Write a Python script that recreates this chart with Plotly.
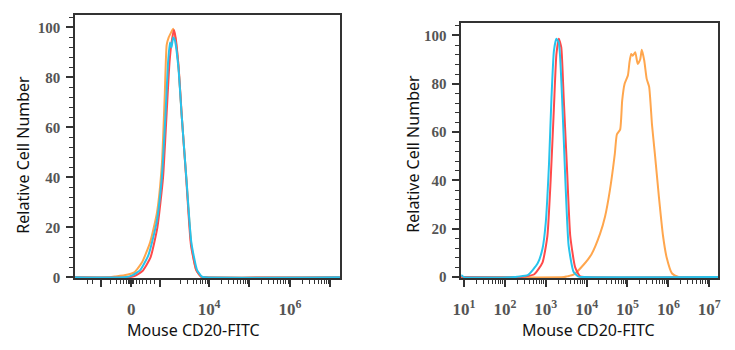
import plotly.graph_objects as go
import math

# ---------------- data (display units: decades on x, % on y) ----------------
# Left panel (biexponential-like display; 0 sits at ~2.07, 10^4 at 4)
left_red_x = [0.68, 2.00, 2.15, 2.35, 2.55, 2.72, 2.86, 2.95, 3.02, 3.08, 3.13, 3.17, 3.25, 3.33, 3.44, 3.55, 3.68, 3.80, 3.90, 7.24]
left_red_y = [0, 0, 0.5, 2.5, 8, 20, 40, 66, 86, 95, 99, 96, 83, 63, 38, 13, 3, 0.3, 0, 0]
left_blue_x = [0.68, 1.90, 2.10, 2.30, 2.50, 2.70, 2.83, 2.92, 2.98, 3.03, 3.07, 3.11, 3.15, 3.24, 3.32, 3.44, 3.56, 3.70, 3.82, 3.90, 7.24]
left_blue_y = [0, 0, 0.8, 3, 9, 22, 40, 65, 85, 94, 92, 96, 95, 84, 65, 39, 14, 3, 0.3, 0, 0]
left_orange_x = [0.68, 1.55, 1.66, 1.90, 2.15, 2.34, 2.54, 2.71, 2.83, 2.90, 2.95, 3.00, 3.06, 3.11, 3.16, 3.24, 3.32, 3.44, 3.56, 3.68, 3.80, 3.90, 7.24]
left_orange_y = [0, 0, 0.3, 0.8, 2, 6, 14, 26, 45, 72, 93, 96, 98, 99.5, 96, 85, 65, 39, 13, 3, 0.3, 0, 0]

# Right panel (log10 of fluorescence)
right_red_x = [0.93, 2.40, 2.48, 2.72, 2.92, 3.04, 3.12, 3.20, 3.26, 3.32, 3.38, 3.44, 3.52, 3.60, 3.72, 3.84, 3.95, 7.22]
right_red_y = [0, 0, 0.2, 1.2, 6, 17, 40, 70, 92, 98.6, 95, 74, 45, 17, 4, 0.3, 0, 0]
right_blue_x = [0.93, 0.95, 1.00, 2.25, 2.32, 2.56, 2.80, 2.92, 3.00, 3.08, 3.14, 3.20, 3.26, 3.32, 3.40, 3.48, 3.56, 3.68, 3.80, 3.90, 7.22]
right_blue_y = [0.8, 0.6, 0, 0, 0.2, 0.8, 5.6, 11.7, 22.5, 46.9, 74, 93.6, 98.6, 97, 74, 40, 13, 2.2, 0.2, 0, 0]
right_orange_x = [0.93, 3.45, 3.52, 3.68, 3.92, 4.12, 4.33, 4.45, 4.57, 4.69, 4.74, 4.82, 4.87, 4.93, 5.01, 5.05, 5.09,
                  5.13, 5.19, 5.25, 5.31, 5.35, 5.41, 5.47, 5.53, 5.60, 5.67, 5.77, 5.87, 5.96, 6.09, 6.25, 7.22]
right_orange_y = [0, 0, 0.3, 1, 5, 9.5, 18, 25, 36, 51, 59, 61, 73, 80, 83.4, 89, 92.3,
                  91.6, 93, 88.2, 90, 94, 89.6, 82, 78.7, 63, 51, 33, 17, 8, 1.5, 0.1, 0]

# tick labels
left_tick_vals = [1.32, 2.07, 2.78, 4, 5, 6, 7]
left_tick_text = ["", "0", "", "10<sup>4</sup>", "", "10<sup>6</sup>", ""]
right_tick_vals = [1, 2, 3, 4, 5, 6, 7]
right_tick_text = ["10<sup>%d</sup>" % k for k in right_tick_vals]
y_tick_vals = [0, 20, 40, 60, 80, 100]

RED = "#ff4a4a"
BLUE = "#27c3ec"
ORANGE = "#ffa64d"

log_minor = [math.log10(k) for k in range(2, 10)]
left_minor = ([1.0, 1.12, 1.55, 1.70, 1.80, 1.88, 1.95, 2.0, 2.04, 2.10, 2.14, 2.20, 2.28, 2.36, 2.45, 2.55, 2.65]
              + [3 + v for v in log_minor] + [4 + v for v in log_minor]
              + [5 + v for v in log_minor] + [6 + v for v in log_minor])
right_minor = [d + v for d in range(1, 7) for v in log_minor]

fig = go.Figure()
for xs, ys, c in [(left_orange_x, left_orange_y, ORANGE), (left_red_x, left_red_y, RED), (left_blue_x, left_blue_y, BLUE)]:
    fig.add_trace(go.Scatter(x=xs, y=ys, mode="lines", line=dict(color=c, width=2, shape="spline", smoothing=0.5),
                             xaxis="x", yaxis="y", showlegend=False, hoverinfo="skip"))
for xs, ys, c in [(right_orange_x, right_orange_y, ORANGE), (right_red_x, right_red_y, RED), (right_blue_x, right_blue_y, BLUE)]:
    fig.add_trace(go.Scatter(x=xs, y=ys, mode="lines", line=dict(color=c, width=2, shape="spline", smoothing=0.5),
                             xaxis="x2", yaxis="y2", showlegend=False, hoverinfo="skip"))

W, H = 735, 350
ytickfont = dict(family="Liberation Serif", size=15, color="#555555", weight="bold")
xtickfont = dict(family="Liberation Serif", size=17, color="#555555", weight="bold")
axline = dict(showline=True, linecolor="#333333", linewidth=1.5, mirror=True, showgrid=False, zeroline=False,
              ticks="outside", tickcolor="#333333", tickwidth=1.5, ticklen=7)
minor_style = dict(ticklen=4, tickcolor="#333333", tickwidth=1.2)

fig.update_layout(
    width=W, height=H, margin=dict(l=0, r=0, t=0, b=0),
    paper_bgcolor="white", plot_bgcolor="white",
    xaxis=dict(domain=[67 / W, 336 / W], range=[0.68, 7.24], tickmode="array", tickvals=left_tick_vals,
               ticktext=left_tick_text, anchor="y", ticklabelstandoff=8, tickfont=xtickfont,
               minor=dict(tickmode="array", tickvals=left_minor, **minor_style), **axline),
    yaxis=dict(domain=[1 - 284 / H, 1 - 15 / H], range=[-0.4, 105.1], tickmode="array", tickvals=y_tick_vals,
               anchor="x", ticklabelstandoff=3, tickfont=ytickfont, minor=dict(dtick=4, **minor_style), **axline),
    xaxis2=dict(domain=[459 / W, 720 / W], range=[0.93, 7.22], tickmode="array", tickvals=right_tick_vals,
                ticktext=right_tick_text, anchor="y2", ticklabelstandoff=8, tickfont=xtickfont,
                minor=dict(tickmode="array", tickvals=right_minor, **minor_style), **axline),
    yaxis2=dict(domain=[1 - 284 / H, 1 - 23 / H], range=[-0.5, 105.3], tickmode="array", tickvals=y_tick_vals,
                anchor="x2", ticklabelstandoff=3, tickfont=ytickfont, minor=dict(dtick=4, **minor_style), **axline),
)

title_font = dict(family="Noto Sans", size=16, color="#111111")
fig.add_annotation(text="Relative Cell Number", x=14 / W, y=1 - 158 / H, xref="paper", yref="paper",
                   textangle=-90, showarrow=False, font=title_font, xanchor="center", yanchor="middle")
fig.add_annotation(text="Relative Cell Number", x=410 / W, y=1 - 157 / H, xref="paper", yref="paper",
                   textangle=-90, showarrow=False, font=title_font, xanchor="center", yanchor="middle")
fig.add_annotation(text="Mouse CD20-FITC", x=187 / W, y=1 - 337 / H, xref="paper", yref="paper",
                   showarrow=False, font=title_font, xanchor="center", yanchor="middle")
fig.add_annotation(text="Mouse CD20-FITC", x=588 / W, y=1 - 337 / H, xref="paper", yref="paper",
                   showarrow=False, font=title_font, xanchor="center", yanchor="middle")

fig.write_html("out.html")
